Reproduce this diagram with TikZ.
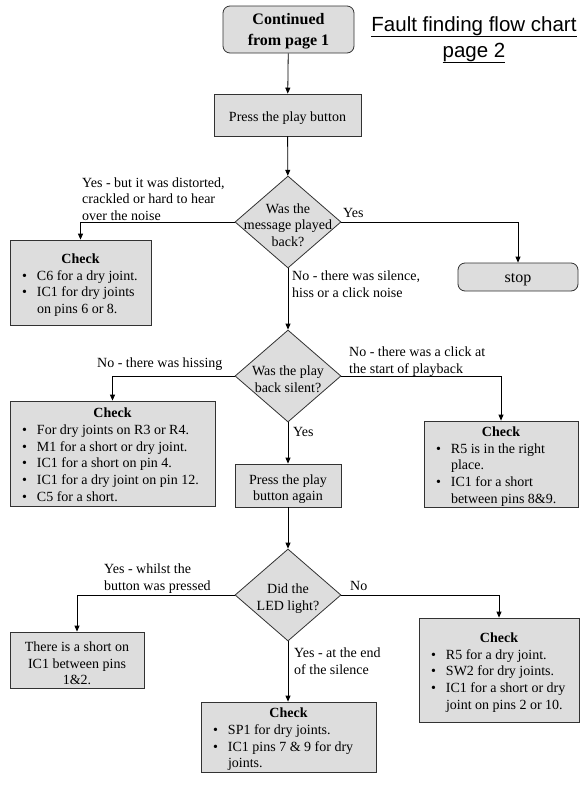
\documentclass[tikz,border=0pt]{standalone}
\usepackage{fontspec}
\setmainfont{Liberation Serif}
\newfontfamily\titlefont{Liberation Sans}
\usetikzlibrary{shapes.geometric,arrows.meta}
\definecolor{boxfill}{RGB}{221,221,221}
\definecolor{edgecol}{RGB}{50,50,50}
\newcommand\chkbox[2]{\textbf{Check}\\\makebox[#1][l]{\begin{tabular}[t]{@{}p{15pt}@{}l@{}}#2\end{tabular}}}
\begin{document}
\begin{tikzpicture}[x=1pt,y=-1pt,
  every node/.style={font=\fontsize{14}{16.7}\selectfont, inner sep=0pt},
  box/.style={draw=edgecol, fill=boxfill, line width=0.8pt},
  rbox/.style={box, rounded corners=7pt},
  txt/.style={align=center},
  dia/.style={diamond, draw=edgecol, fill=boxfill, line width=0.8pt, minimum width=106pt, minimum height=92pt, inner sep=0pt},
  lab/.style={anchor=base west, align=left},
  arr/.style={line width=0.8pt, -{Triangle[length=6pt,width=5pt]}},
]
\useasboundingbox (0,0) rectangle (585,785);
\fill[white] (0,0) rectangle (585,785);

% title
\node[font=\titlefont\fontsize{20.5}{26}\selectfont, align=center, anchor=base] (title) at (474,57) {\underline{Fault finding flow chart}\\\underline{page 2}};

% shapes
\node[rbox, minimum width=131pt, minimum height=47pt] (start) at (288.5,29.5) {};
\node[box, minimum width=147pt, minimum height=42pt] (p1) at (287.5,115) {};
\node[dia] (d1) at (288,222) {};
\node[box, minimum width=141pt, minimum height=85pt] (c1) at (80.5,282.5) {};
\node[rbox, minimum width=120pt, minimum height=28pt] (stop) at (518,277) {};
\node[dia] (d2) at (288,376) {};
\node[box, minimum width=205pt, minimum height=105pt] (c2) at (112.5,453.5) {};
\node[box, minimum width=154pt, minimum height=86pt] (c3) at (501,464) {};
\node[box, minimum width=106pt, minimum height=43pt] (p2) at (288,485.5) {};
\node[dia] (d3) at (288,595) {};
\node[box, minimum width=134pt, minimum height=56pt] (c5) at (77,660) {};
\node[box, minimum width=160pt, minimum height=104pt] (c6) at (499,670) {};
\node[box, minimum width=175pt, minimum height=70pt] (c7) at (288.5,737) {};

% texts inside shapes
\node[txt, font=\fontsize{16}{21}\selectfont\bfseries] (startt) at (288.5,31.5) {Continued\\from page 1};
\node[txt] (p1t) at (287.5,118) {Press the play button};
\node[txt] (d1t) at (288,225) {Was the\\message played\\back?};
\node[txt] (c1t) at (80.5,286) {\chkbox{117pt}{\textbullet & C6 for a dry joint.\\ \textbullet & IC1 for dry joints\\ & on pins 6 or 8.}};
\node[txt, font=\fontsize{16}{19}\selectfont] (stopt) at (518,280) {stop};
\node[txt] (d2t) at (288,379.5) {Was the play\\back silent?};
\node[txt] (c2t) at (112.5,457) {\chkbox{181pt}{\textbullet & For dry joints on R3 or R4.\\ \textbullet & M1 for a short or dry joint.\\ \textbullet & IC1 for a short on pin 4.\\ \textbullet & IC1 for a dry joint on pin 12.\\ \textbullet & C5 for a short.}};
\node[txt] (c3t) at (501,467.5) {\chkbox{130pt}{\textbullet & R5 is in the right\\ & place.\\ \textbullet & IC1 for a short\\ & between pins 8\&9.}};
\node[txt] (p2t) at (288,489) {Press the play\\button again};
\node[txt] (d3t) at (288,598.5) {Did the\\LED light?};
\node[txt] (c5t) at (77,663.5) {There is a short on\\IC1 between pins\\1\&2.};
\node[txt] (c6t) at (499,673.5) {\chkbox{136pt}{\textbullet & R5 for a dry joint.\\ \textbullet & SW2 for dry joints.\\ \textbullet & IC1 for a short or dry\\ & joint on pins 2 or 10.}};
\node[txt] (c7t) at (288.5,740.5) {\chkbox{151pt}{\textbullet & SP1 for dry joints.\\ \textbullet & IC1 pins 7 \& 9 for dry\\ & joints.}};

% connectors
\draw[arr] (start) -- (p1);
\draw[arr] (p1) -- (d1);
\draw[arr] (d1.west) -| (c1.north);
\draw[arr] (d1.east) -| (stop.north);
\draw[arr] (d1) -- (d2);
\draw[arr] (d2.west) -| (c2.north);
\draw[arr] (d2.east) -| (c3.north);
\draw[arr] (d2) -- (p2);
\draw[arr] (p2) -- (d3);
\draw[arr] (d3.west) -| (c5.north);
\draw[arr] (d3.east) -| (c6.north);
\draw[arr] (d3.south) -- (d3.south |- c7.north);

% labels (base = last line)
\node[lab] (l1) at (82,220.5) {Yes - but it was distorted,\\crackled or hard to hear\\over the noise};
\node[lab] (l2) at (343,217.5) {Yes};
\node[lab] (l3) at (292,297.5) {No - there was silence,\\hiss or a click noise};
\node[lab] (l4) at (97,367.5) {No - there was hissing};
\node[lab] (l5) at (349,373.5) {No - there was a click at\\the start of playback};
\node[lab] (l6) at (293,436.5) {Yes};
\node[lab] (l7) at (104,590.5) {Yes - whilst the\\button was pressed};
\node[lab] (l8) at (350,590.5) {No};
\node[lab] (l9) at (294,674.5) {Yes - at the end\\of the silence};
\end{tikzpicture}
\end{document}
